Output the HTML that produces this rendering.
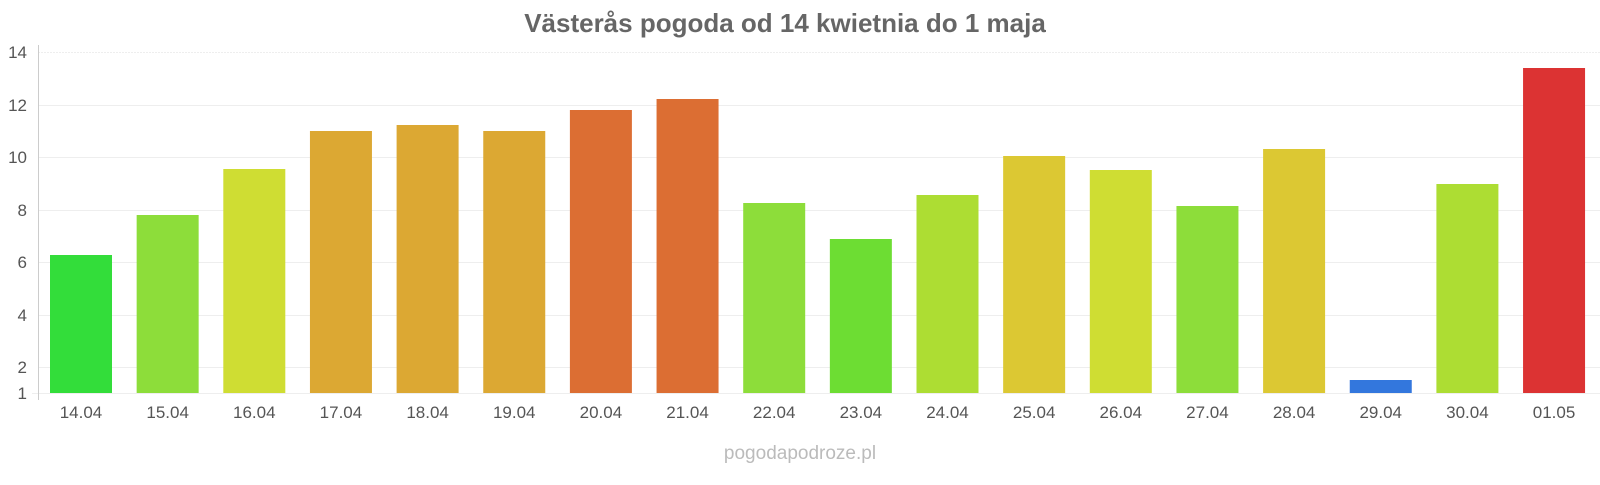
<!DOCTYPE html><html><head><meta charset="utf-8"><style>body{margin:0;background:#fff}</style></head><body>
<svg width="1600" height="480" xmlns="http://www.w3.org/2000/svg" font-family="Liberation Sans, sans-serif">
<text x="785" y="32" text-anchor="middle" font-size="26" font-weight="bold" fill="#666">Västerås pogoda od 14 kwietnia do 1 maja</text>
<g stroke="#eee" stroke-width="1">
<line x1="38" x2="1600" y1="52.5" y2="52.5" stroke-dasharray="2,1"/><line x1="38" x2="1600" y1="105.5" y2="105.5"/><line x1="38" x2="1600" y1="157.5" y2="157.5"/><line x1="38" x2="1600" y1="210.5" y2="210.5"/><line x1="38" x2="1600" y1="262.5" y2="262.5"/><line x1="38" x2="1600" y1="315.5" y2="315.5"/><line x1="38" x2="1600" y1="367.5" y2="367.5"/><line x1="32" x2="1600" y1="393.5" y2="393.5"/>
</g>
<line x1="38.5" x2="38.5" y1="45" y2="400" stroke="#ccc"/>
<g font-size="17" fill="#555" text-anchor="end">
<text x="27" y="58">14</text><text x="27" y="111">12</text><text x="27" y="163">10</text><text x="27" y="216">8</text><text x="27" y="268">6</text><text x="27" y="321">4</text><text x="27" y="373">2</text><text x="27" y="399">1</text>
</g>
<g id="bars"></g>
<g id="labels" font-size="17" fill="#555" text-anchor="middle"></g>
<text x="800" y="459" text-anchor="middle" font-size="19" fill="#bbb">pogodapodroze.pl</text>
</svg>
<script>
var d=[["14.04",255,"#33dd3a"],["15.04",215,"#8ddd3a"],["16.04",169,"#cfdd33"],["17.04",131,"#dca833"],["18.04",125,"#dca833"],["19.04",131,"#dca833"],["20.04",110,"#dc6e33"],["21.04",99,"#dc6e33"],["22.04",203,"#8ddd3a"],["23.04",239,"#6ddd33"],["24.04",195,"#addd33"],["25.04",156,"#dcc833"],["26.04",170,"#cfdd33"],["27.04",206,"#8ddd3a"],["28.04",149,"#dcc833"],["29.04",380,"#3377dd"],["30.04",184,"#addd33"],["01.05",68,"#dc3333"]];
var b=document.getElementById("bars"),l=document.getElementById("labels"),ns="http://www.w3.org/2000/svg";
d.forEach(function(e,i){var x=50+i*86.65;var r=document.createElementNS(ns,"rect");r.setAttribute("x",x);r.setAttribute("y",e[1]);r.setAttribute("width",62);r.setAttribute("height",393-e[1]);r.setAttribute("fill",e[2]);b.appendChild(r);
var t=document.createElementNS(ns,"text");t.setAttribute("x",x+31);t.setAttribute("y",418);t.textContent=e[0];l.appendChild(t);});
</script>
</body></html>
